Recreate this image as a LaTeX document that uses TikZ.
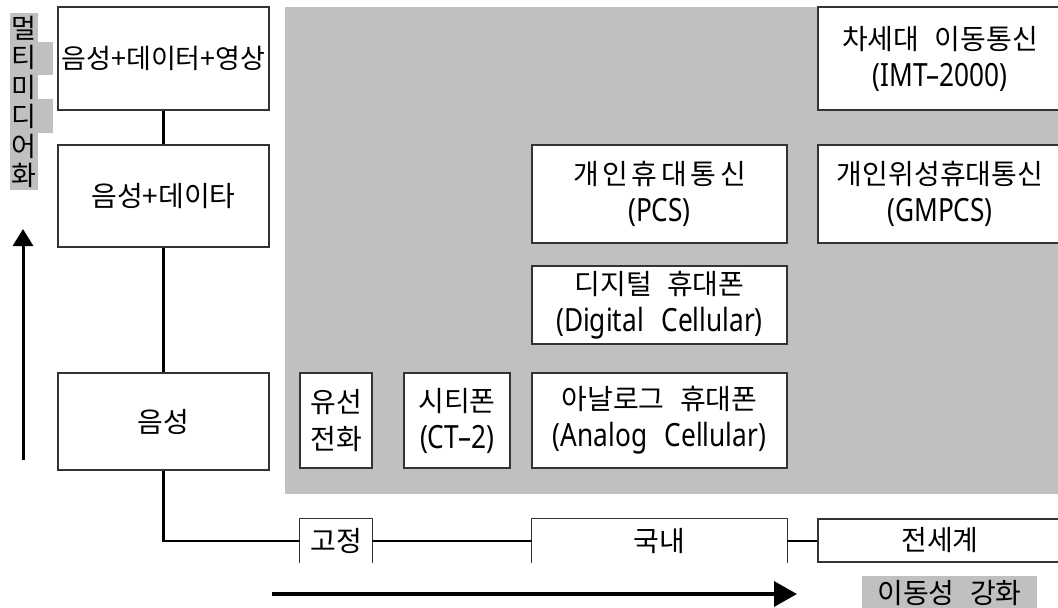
\documentclass[tikz,border=0pt]{standalone}
\usepackage{fontspec}
\setmainfont{Noto Sans CJK KR}
\newfontfamily\latfont{Noto Sans}[FakeStretch=0.82]
\usetikzlibrary{arrows.meta}
\definecolor{panel}{HTML}{C0C0C0}
\newcommand\diafs{\fontsize{28}{37}\selectfont}
\newcommand\la[1]{{\latfont\fontsize{32}{37}\selectfont #1}}
\newcommand\ws{\hspace{0.55em}}
\begin{document}
\begin{tikzpicture}[x=1pt,y=-1pt,
  box/.style={draw=black!80, line width=1.1pt, fill=white, align=center, font=\diafs, inner sep=0pt},
  openbox/.style={align=center, font=\diafs, inner sep=0pt},
  edge/.style={draw=black!80, line width=1.1pt},
  conn/.style={line width=2.2pt, black},
  bigarrow/.style={line width=3.2pt, black, -{Triangle[length=23pt,width=25pt]}},
  vchar/.style={font=\fontsize{27}{29}\selectfont, inner sep=0pt},
]
\clip (0,0) rectangle (1058,608);
\fill[white] (0,0) rectangle (1058,608);
\fill[panel] (285,7) rectangle (1062,494);

% left vertical label
\fill[panel] (10,13) rectangle (38,190);
\fill[panel] (10,42) rectangle (53,75);
\fill[panel] (10,99) rectangle (53,133);
\node[vchar] (m1) at (24,28) {멀};
\node[vchar] (m2) at (24,57.5) {티};
\node[vchar] (m3) at (24,87) {미};
\node[vchar] (m4) at (24,116.5) {디};
\node[vchar] (m5) at (24,146) {어};
\node[vchar] (m6) at (24,175.5) {화};

% up arrow
\coordinate (upS) at (23,460);
\coordinate (upE) at (23,229);
\draw[line width=3pt, -{Triangle[length=17pt,width=20pt]}] (upS) -- (upE);

% left column
\node[box, minimum width=211, minimum height=103] (av) at (163.5,58.5) {\fontsize{27}{37}\selectfont 음성+데이터+영상};
\node[box, minimum width=211, minimum height=102] (bv) at (163.5,196) {음성+데이타};
\node[box, minimum width=211, minimum height=97] (cv) at (163.5,421.5) {음성};

% grey panel boxes
\node[box, minimum width=72, minimum height=95] (wire) at (336,420.5) {유선\\전화};
\node[box, minimum width=106, minimum height=95] (ct) at (457,420.5) {시티폰\\\la{(CT–2)}};
\node[box, minimum width=255, minimum height=95] (ana) at (659.5,420.5) {아날로그\ws 휴대폰\\\la{(Analog\ws Cellular)}};
\node[box, minimum width=255, minimum height=78] (dig) at (659.5,305) {디지털\ws 휴대폰\\\la{(Digital\ws Cellular)}};
\node[box, minimum width=255, minimum height=98] (pcs) at (659.5,194) {{\addfontfeature{LetterSpace=13}개인휴대통신}\\\la{(PCS)}};
\node[box, minimum width=244, minimum height=98] (gmpcs) at (940,194) {개인위성휴대통신\\\la{(GMPCS)}};
\node[box, minimum width=244, minimum height=103] (imt) at (940,58.5) {차세대\ws 이동통신\\\la{(IMT–2000)}};

% bottom axis boxes
\node[openbox, minimum width=72, minimum height=44] (fixed) at (336,541) {고정};
\draw[edge] (fixed.south west) -- (fixed.north west) -- (fixed.north east) -- (fixed.south east);
\node[openbox, minimum width=255, minimum height=44] (dom) at (659.5,541) {국내};
\draw[edge] (dom.south west) -- (dom.north west) -- (dom.north east) -- (dom.south east);
\node[box, minimum width=244, minimum height=43] (world) at (940,540.5) {전세계};

% connectors
\draw[conn] (av.south) -- (bv.north);
\draw[conn] (bv.south) -- (cv.north);
\draw[conn] (cv.south) |- (fixed.west);
\draw[conn] (fixed.east) -- (dom.west);
\draw[conn] (dom.east) -- (dom.east -| world.west);

% bottom arrow and label
\coordinate (axS) at (272,594);
\coordinate (axE) at (797,594);
\draw[bigarrow] (axS) -- (axE);
\fill[panel] (862,576) rectangle (1037,610);
\node[openbox] (mob) at (949.5,593) {이동성\ws 강화};
\end{tikzpicture}
\end{document}
